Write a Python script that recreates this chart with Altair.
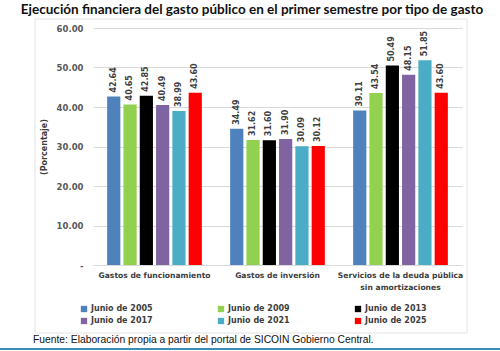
import altair as alt
import pandas as pd

categories = ["Gastos de funcionamiento", "Gastos de inversión",
              "Servicios de la deuda pública\nsin amortizaciones"]
series = ["Junio de 2005", "Junio de 2009", "Junio de 2013",
          "Junio de 2017", "Junio de 2021", "Junio de 2025"]
colors = ["#4F81BD", "#92D050", "#000000", "#8064A2", "#4BACC6", "#FF0000"]
y_ticks = [0, 10, 20, 30, 40, 50, 60]

funcionamiento = [42.64, 40.65, 42.85, 40.49, 38.99, 43.60]
inversion = [34.49, 31.62, 31.60, 31.90, 30.09, 30.12]
deuda = [39.11, 43.54, 50.49, 48.15, 51.85, 43.60]

title_text = "Ejecución financiera del gasto público en el primer semestre por tipo de gasto"
footer_text = "Fuente: Elaboración propia a partir del portal de SICOIN Gobierno Central."

rows = []
for cat, vals in zip(categories, [funcionamiento, inversion, deuda]):
    for s, v in zip(series, vals):
        rows.append({"cat": cat, "serie": s, "valor": v})
df = pd.DataFrame(rows)

W, H = 369, 237
PAD = {"left": 93, "top": 28, "right": 38, "bottom": 86}

x_enc = alt.X("cat:N", sort=categories, title=None,
              scale=alt.Scale(paddingInner=0.23, paddingOuter=0.115),
              axis=alt.Axis(labelAngle=0, ticks=False, domain=True,
                            domainColor="#D9D9D9", labelPadding=6,
                            labelFont="DejaVu Sans", labelFontSize=7.6,
                            labelFontWeight="bold", labelColor="#404040",
                            labelLineHeight=12,
                            labelExpr="split(datum.label, '\\n')"))
xo_enc = alt.XOffset("serie:N", sort=series,
                     scale=alt.Scale(paddingInner=0.19, paddingOuter=0.0))

y_enc = alt.Y("valor:Q", title="(Porcentaje)",
              scale=alt.Scale(domain=[0, 60], nice=False, zero=True),
              axis=alt.Axis(values=y_ticks, tickCount=7, grid=True,
                            gridColor="#D9D9D9", domain=False, ticks=False,
                            labelOverlap=False,
                            labelPadding=10, labelFont="DejaVu Sans",
                            labelFontSize=8.5, labelFontWeight="bold",
                            labelColor="#595959",
                            labelExpr="datum.value == 0 ? '-' : format(datum.value, '.2f')",
                            titleFont="DejaVu Sans", titleFontSize=8,
                            titleFontWeight="bold", titleColor="#404040",
                            titlePadding=8))

base = alt.Chart(df).encode(x=x_enc, xOffset=xo_enc, y=y_enc)

bars = base.mark_bar().encode(
    color=alt.Color("serie:N", sort=series,
                    scale=alt.Scale(domain=series, range=colors),
                    legend=alt.Legend(title=None, orient="none", legendX=-13,
                                      legendY=277, columns=3, direction="horizontal",
                                      symbolType="square", symbolSize=40,
                                      symbolStrokeWidth=0, labelFont="DejaVu Sans",
                                      labelFontSize=8, labelFontWeight="bold",
                                      labelColor="#404040", columnPadding=64,
                                      rowPadding=4, labelOffset=3)),
)

labels = base.mark_text(angle=270, align="left", baseline="middle", dx=4,
                        font="DejaVu Sans", fontSize=8, fontWeight="bold",
                        color="#404040").encode(
    text=alt.Text("valor:Q", format=".2f"),
)

box = alt.Chart(pd.DataFrame({"k": [0]})).mark_rect(
    fill=None, stroke="#E3E3E3", strokeWidth=1).encode(
    x=alt.value(-58), x2=alt.value(374), y=alt.value(-9), y2=alt.value(305))

title = alt.Chart(pd.DataFrame({"t": [title_text]})).mark_text(
    align="center", baseline="middle", font="Lato", fontSize=13.5,
    fontWeight="bold", color="#111111").encode(
    x=alt.value(159), y=alt.value(-18), text="t:N")

footer = alt.Chart(pd.DataFrame({"t": [footer_text]})).mark_text(
    align="left", baseline="middle", font="Liberation Sans", fontSize=10.3,
    color="#111111").encode(x=alt.value(-60), y=alt.value(312), text="t:N")

bottom_line = alt.Chart(pd.DataFrame({"k": [0]})).mark_rule(
    color="#3C8DB5", strokeWidth=2).encode(
    x=alt.value(-93), x2=alt.value(407), y=alt.value(321))

chart = alt.layer(bars, labels, box, title, footer, bottom_line).properties(
    width=W, height=H, padding=PAD,
    autosize=alt.AutoSizeParams(type="none"),
    background="white",
).configure_view(stroke=None)

chart.save("out.html", embed_options={"renderer": "svg", "actions": False})
